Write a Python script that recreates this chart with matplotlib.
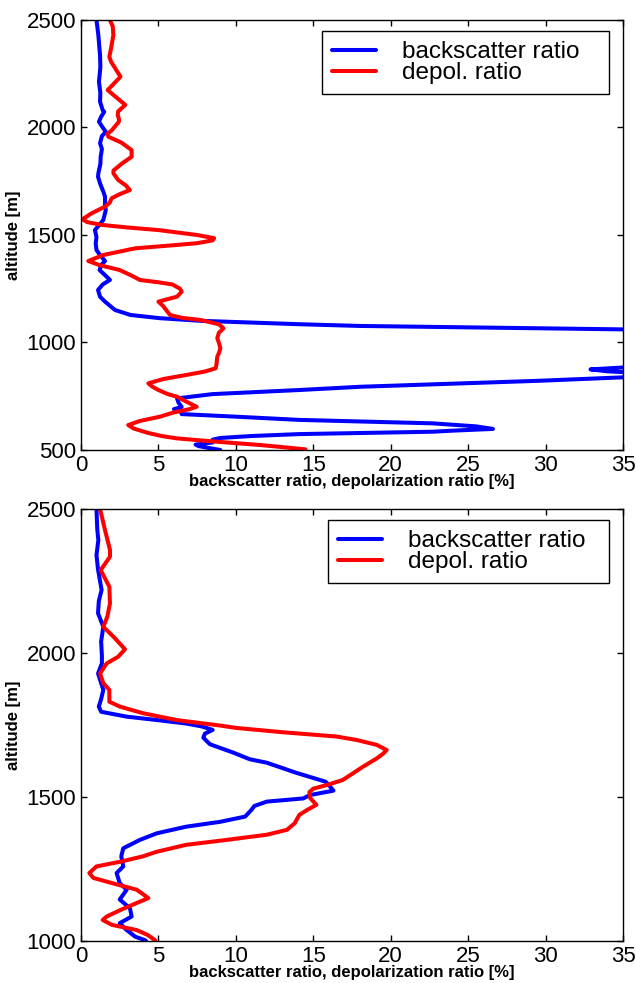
import matplotlib
matplotlib.use('Agg')
import matplotlib.pyplot as plt

plt.rcParams['font.family'] = 'Liberation Sans'

# --- profile 1 (cloud at ~1000 m) ---
alt1_bsr = [2500, 2430, 2360, 2337, 2280, 2213, 2160, 2120, 2081, 2073, 2050, 2027, 2000, 1980,
            1960, 1927, 1900, 1864, 1830, 1787, 1771, 1740, 1700, 1678, 1640, 1616, 1570, 1540,
            1523, 1490, 1461, 1430, 1407, 1379, 1360, 1337, 1310, 1291, 1270, 1244, 1213, 1190,
            1151, 1128, 1113, 1101, 1085, 1077, 1061, 1050, 1000, 950, 900, 888, 875, 866, 856,
            845, 838, 822, 794, 779, 760, 740, 720, 700, 690, 684, 672, 667, 655, 640, 624, 610,
            598, 590, 585, 574, 565, 556, 548, 535, 525, 518, 510, 500]
bsr1 = [1.0, 1.12, 1.2, 1.23, 1.25, 1.16, 1.25, 1.23, 1.4, 1.5, 1.3, 1.16, 1.4, 1.6,
        1.35, 1.23, 1.35, 1.27, 1.25, 1.12, 1.1, 1.23, 1.45, 1.55, 1.55, 1.6, 1.44, 1.1,
        0.9, 1.0, 0.95, 1.0, 1.23, 1.55, 1.3, 1.2, 1.6, 1.87, 1.4, 1.1, 1.23, 1.55,
        2.2, 3.2, 5.1, 7.7, 14.1, 18.0, 35.0, 45, 60, 60, 45, 36, 32.9, 34.0, 36.5,
        37, 35, 29.6, 18.0, 14.1, 8.5, 6.2, 6.3, 6.5, 6.0, 6.4, 6.5, 6.5, 10.0, 14.1, 22.7, 25.5,
        26.6, 24, 22.7, 14.1, 11, 9.0, 8.5, 8.5, 7.4, 7.6, 8.2, 9.0]

alt1_dep = [2500, 2470, 2430, 2368, 2329, 2306, 2236, 2174, 2105, 2075, 2058, 2040, 2027, 1988,
            1970, 1957, 1930, 1895, 1864, 1830, 1800, 1787, 1756, 1730, 1709, 1690, 1671, 1650,
            1632, 1601, 1573, 1560, 1547, 1535, 1523, 1500, 1485, 1475, 1462, 1453, 1438, 1420,
            1407, 1379, 1360, 1337, 1310, 1291, 1280, 1270, 1250, 1236, 1213, 1200, 1190, 1170,
            1151, 1128, 1115, 1105, 1085, 1066, 1045, 1020, 1000, 973, 950, 934, 900, 880, 865,
            849, 830, 810, 795, 779, 760, 748, 725, 701, 690, 675, 655, 635, 616, 600, 580, 565,
            554, 540, 523, 510, 503]
dep1 = [1.87, 2.05, 2.09, 1.94, 1.83, 1.94, 2.55, 1.72, 2.86, 2.4, 2.37, 2.45, 2.45, 2.0,
        1.7, 1.77, 2.6, 3.27, 3.27, 2.6, 2.1, 2.09, 2.4, 2.9, 3.16, 2.5, 1.98, 1.85,
        1.55, 0.69, 0.09, 0.4, 1.33, 3.0, 5.0, 7.5, 8.6, 8.5, 7.5, 6.07, 3.5, 2.3,
        1.44, 0.47, 1.2, 2.5, 3.3, 3.8, 5.0, 5.9, 6.4, 6.5, 6.2, 5.5, 5.0, 5.3,
        5.5, 5.75, 6.5, 7.7, 8.9, 9.2, 8.9, 8.8, 8.9, 9.0, 8.9, 8.8, 8.75, 8.7, 8.0,
        6.8, 5.3, 4.35, 4.6, 5.0, 5.6, 6.2, 6.8, 7.47, 7.0, 6.0, 5.1, 3.8, 3.05, 3.4, 4.3, 5.2,
        6.2, 8.5, 11.6, 13.5, 14.5]

# --- profile 2 (layer at ~1500-1750 m) ---
alt2_bsr = [2500, 2430, 2392, 2340, 2290, 2219, 2180, 2138, 2091, 2040, 1990, 1964, 1929, 1872,
            1840, 1814, 1796, 1779, 1766, 1755, 1745, 1733, 1720, 1706, 1683, 1654, 1631, 1619,
            1584, 1553, 1535, 1522, 1507, 1495, 1484, 1469, 1455, 1432, 1414, 1397, 1374, 1351,
            1322, 1294, 1259, 1236, 1201, 1178, 1144, 1114, 1085, 1062, 1038, 1015, 1003, 1000]
bsr2 = [1.0, 1.05, 1.12, 1.0, 1.1, 1.33, 1.15, 1.1, 1.44, 1.3, 1.35, 1.35, 1.1, 1.44,
        1.3, 1.15, 1.3, 2.95, 5.1, 6.8, 7.8, 8.5, 8.0, 7.9, 8.33, 9.84, 10.9, 12.0,
        13.9, 15.8, 16.1, 16.3, 14.8, 14.35, 12.0, 11.2, 11.0, 10.6, 9.0, 6.8, 4.9, 3.8,
        2.73, 2.6, 2.73, 2.3, 2.5, 2.95, 2.5, 3.16, 3.27, 2.5, 2.95, 3.5, 4.13, 4.2]

alt2_dep = [2500, 2427, 2358, 2334, 2288, 2230, 2172, 2126, 2091, 2057, 2013, 1987, 1964, 1929,
            1895, 1872, 1831, 1814, 1791, 1767, 1748, 1740, 1725, 1710, 1698, 1681, 1663, 1650,
            1634, 1605, 1580, 1559, 1542, 1529, 1517, 1496, 1473, 1455, 1438, 1409, 1386, 1369,
            1351, 1334, 1310, 1294, 1276, 1259, 1236, 1219, 1201, 1178, 1149, 1132, 1109, 1085,
            1073, 1056, 1038, 1021, 1003, 1000]
dep2 = [1.23, 1.55, 1.87, 1.87, 1.27, 1.83, 1.87, 1.7, 1.44, 2.09, 2.84, 2.4, 1.66, 1.23,
        1.44, 1.83, 1.83, 2.5, 4.0, 6.2, 9.0, 10.0, 13.0, 16.5, 17.8, 19.1, 19.74, 19.5,
        19.1, 18.2, 17.5, 16.9, 15.9, 15.0, 14.75, 14.8, 15.2, 14.6, 14.1, 13.8, 13.3, 12.0,
        9.4, 6.8, 4.9, 4.0, 2.6, 1.0, 0.54, 0.8, 2.0, 3.6, 4.35, 3.6, 2.6, 1.66,
        1.4, 2.0, 3.6, 4.3, 4.78, 4.8]

xticks = [0, 5, 10, 15, 20, 25, 30, 35]
yticks1 = [500, 1000, 1500, 2000, 2500]
yticks2 = [1000, 1500, 2000, 2500]

fig = plt.figure(figsize=(6.36, 9.83), dpi=100)
ax1 = fig.add_axes([81/636, 1-450/983, 542/636, 430/983])
ax2 = fig.add_axes([81/636, 1-941/983, 542/636, 432/983])

panels = [(ax1, alt1_bsr, bsr1, alt1_dep, dep1, (500, 2500), yticks1, 0.4446),
          (ax2, alt2_bsr, bsr2, alt2_dep, dep2, (1000, 2500), yticks2, 0.4557)]

for ax, ab, b, ad, d, ylim, yt, legx in panels:
    ax.plot(b, ab, color='#0000ff', lw=2.9, label='backscatter ratio', solid_capstyle='round')
    ax.plot(d, ad, color='#ff0000', lw=2.9, label='depol. ratio', solid_capstyle='round')
    ax.set_xlim(0, 35)
    ax.set_ylim(*ylim)
    ax.set_xticks(xticks)
    ax.set_yticks(yt)
    ax.tick_params(direction='in', top=True, right=True, length=4.5, width=1,
                   labelsize=16, pad=3.5)
    for s in ax.spines.values():
        s.set_linewidth(1.0)
    ax.set_xlabel('backscatter ratio, depolarization ratio [%]', fontsize=12,
                  fontweight='bold', labelpad=-1)
    ax.set_ylabel('altitude [m]', fontsize=12, fontweight='bold')
    ax.yaxis.set_label_coords(-0.11, 0.5)
    leg = ax.legend(loc='upper left', bbox_to_anchor=(legx, 0.9744, 0.974 - legx, 0),
                    mode='expand', borderaxespad=0, fontsize=17.5, handlelength=1.8,
                    handletextpad=1.07, labelspacing=-0.05, borderpad=0.42,
                    fancybox=False, framealpha=1)
    leg.get_frame().set_edgecolor('black')
    leg.get_frame().set_linewidth(1.0)

fig.savefig('out.png', dpi=100)
